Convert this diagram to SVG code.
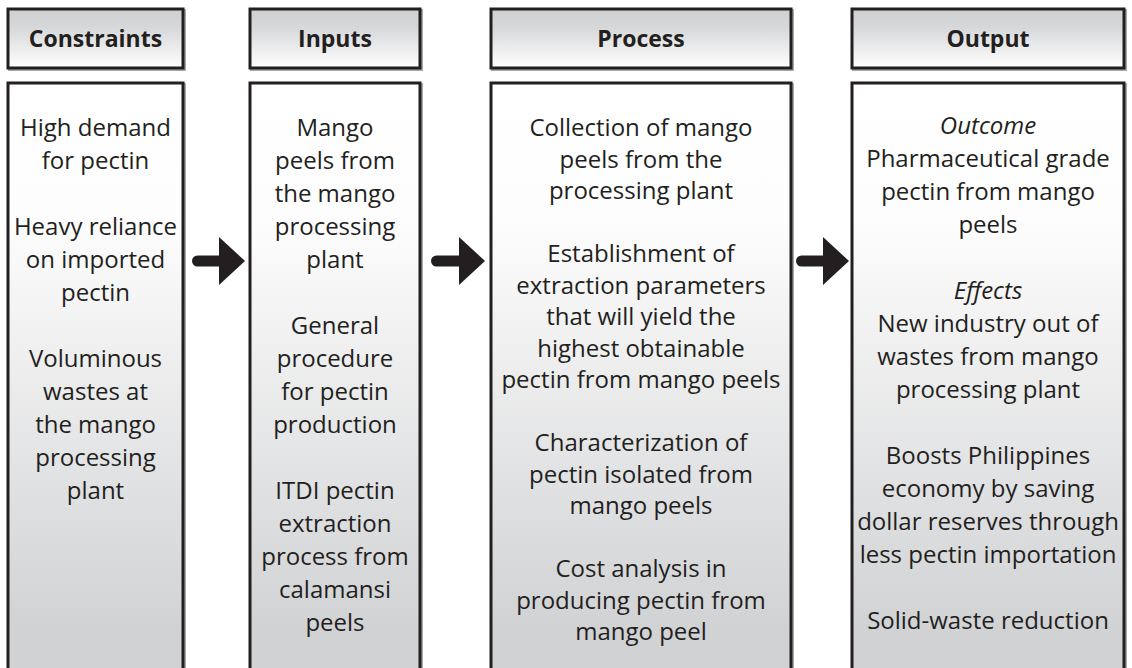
<svg xmlns="http://www.w3.org/2000/svg" width="1132" height="668" viewBox="0 0 1132 668">
<defs>
<linearGradient id="hdr" x1="0" y1="0" x2="0" y2="1">
<stop offset="0" stop-color="#cfd0d2"/>
<stop offset="0.3" stop-color="#d6d7d9"/>
<stop offset="1" stop-color="#ffffff"/>
</linearGradient>
<linearGradient id="body" gradientUnits="userSpaceOnUse" x1="0" y1="83" x2="0" y2="630">
<stop offset="0" stop-color="#ffffff"/>
<stop offset="0.25" stop-color="#fdfdfd"/>
<stop offset="1" stop-color="#d1d2d4"/>
</linearGradient>
<marker id="head" markerUnits="userSpaceOnUse" viewBox="0 0 26 48" refX="1" refY="24" markerWidth="26" markerHeight="48" orient="auto">
<path d="M0,0 L26,24 L0,48 Z" fill="#231f20"/>
</marker>
</defs>
<style>
.shadow{fill:none;stroke:#a7a9ac;stroke-width:3}
.box{stroke:#231f20;stroke-width:3}
.h{fill:url(#hdr)}
.b{fill:url(#body)}
text{font-family:"Open Sans","Liberation Sans",sans-serif;fill:#231f20;text-anchor:middle}
.ht{font-size:23px;font-weight:bold}
.t{font-size:24px}
.i{font-style:italic}
.arrow{stroke:#231f20;stroke-width:11;stroke-linecap:round;fill:none;marker-end:url(#head)}
</style>
<rect width="1132" height="668" fill="#ffffff"/>

<g id="constraints-header">
<rect class="shadow" x="9.5" y="10.5" width="175" height="59"/>
<rect class="box h" x="8" y="9" width="175" height="59"/>
<text class="ht" x="95.5" y="47">Constraints</text>
</g>
<g id="inputs-header">
<rect class="shadow" x="251.5" y="10.5" width="170" height="59"/>
<rect class="box h" x="250" y="9" width="170" height="59"/>
<text class="ht" x="335" y="47">Inputs</text>
</g>
<g id="process-header">
<rect class="shadow" x="492.5" y="10.5" width="300" height="59"/>
<rect class="box h" x="491" y="9" width="300" height="59"/>
<text class="ht" x="641" y="47">Process</text>
</g>
<g id="output-header">
<rect class="shadow" x="853.5" y="10.5" width="272" height="59"/>
<rect class="box h" x="852" y="9" width="272" height="59"/>
<text class="ht" x="988" y="47">Output</text>
</g>

<g id="constraints-body">
<rect class="shadow" x="9.5" y="84.5" width="175" height="620"/>
<rect class="box b" x="8" y="83" width="175" height="620"/>
<text class="t" x="95.5" y="136">High demand</text>
<text class="t" x="95.5" y="169">for pectin</text>
<text class="t" x="95.5" y="235">Heavy reliance</text>
<text class="t" x="95.5" y="268">on imported</text>
<text class="t" x="95.5" y="301">pectin</text>
<text class="t" x="95.5" y="367">Voluminous</text>
<text class="t" x="95.5" y="400">wastes at</text>
<text class="t" x="95.5" y="433">the mango</text>
<text class="t" x="95.5" y="466">processing</text>
<text class="t" x="95.5" y="499">plant</text>
</g>

<g id="inputs-body">
<rect class="shadow" x="251.5" y="84.5" width="170" height="620"/>
<rect class="box b" x="250" y="83" width="170" height="620"/>
<text class="t" x="335" y="136">Mango</text>
<text class="t" x="335" y="169">peels from</text>
<text class="t" x="335" y="202">the mango</text>
<text class="t" x="335" y="235">processing</text>
<text class="t" x="335" y="268">plant</text>
<text class="t" x="335" y="334">General</text>
<text class="t" x="335" y="367">procedure</text>
<text class="t" x="335" y="400">for pectin</text>
<text class="t" x="335" y="433">production</text>
<text class="t" x="335" y="499">ITDI pectin</text>
<text class="t" x="335" y="532">extraction</text>
<text class="t" x="335" y="565">process from</text>
<text class="t" x="335" y="598">calamansi</text>
<text class="t" x="335" y="631">peels</text>
</g>

<g id="process-body">
<rect class="shadow" x="492.5" y="84.5" width="300" height="620"/>
<rect class="box b" x="491" y="83" width="300" height="620"/>
<text class="t" x="641" y="136">Collection of mango</text>
<text class="t" x="641" y="167.5">peels from the</text>
<text class="t" x="641" y="199">processing plant</text>
<text class="t" x="641" y="262">Establishment of</text>
<text class="t" x="641" y="293.5">extraction parameters</text>
<text class="t" x="641" y="325">that will yield the</text>
<text class="t" x="641" y="356.5">highest obtainable</text>
<text class="t" x="641" y="388">pectin from mango peels</text>
<text class="t" x="641" y="451">Characterization of</text>
<text class="t" x="641" y="482.5">pectin isolated from</text>
<text class="t" x="641" y="514">mango peels</text>
<text class="t" x="641" y="577">Cost analysis in</text>
<text class="t" x="641" y="608.5">producing pectin from</text>
<text class="t" x="641" y="640">mango peel</text>
</g>

<g id="output-body">
<rect class="shadow" x="853.5" y="84.5" width="272" height="620"/>
<rect class="box b" x="852" y="83" width="272" height="620"/>
<text class="t i" x="988" y="134">Outcome</text>
<text class="t" x="988" y="167">Pharmaceutical grade</text>
<text class="t" x="988" y="200">pectin from mango</text>
<text class="t" x="988" y="233">peels</text>
<text class="t i" x="988" y="299">Effects</text>
<text class="t" x="988" y="332">New industry out of</text>
<text class="t" x="988" y="365">wastes from mango</text>
<text class="t" x="988" y="398">processing plant</text>
<text class="t" x="988" y="464">Boosts Philippines</text>
<text class="t" x="988" y="497">economy by saving</text>
<text class="t" x="988" y="530">dollar reserves through</text>
<text class="t" x="988" y="563">less pectin importation</text>
<text class="t" x="988" y="629">Solid-waste reduction</text>
</g>

<g id="connectors">
<line class="arrow" x1="197.5" y1="261" x2="220" y2="261"/>
<line class="arrow" x1="436.5" y1="261" x2="460" y2="261"/>
<line class="arrow" x1="801.5" y1="261" x2="824" y2="261"/>
</g>
</svg>
